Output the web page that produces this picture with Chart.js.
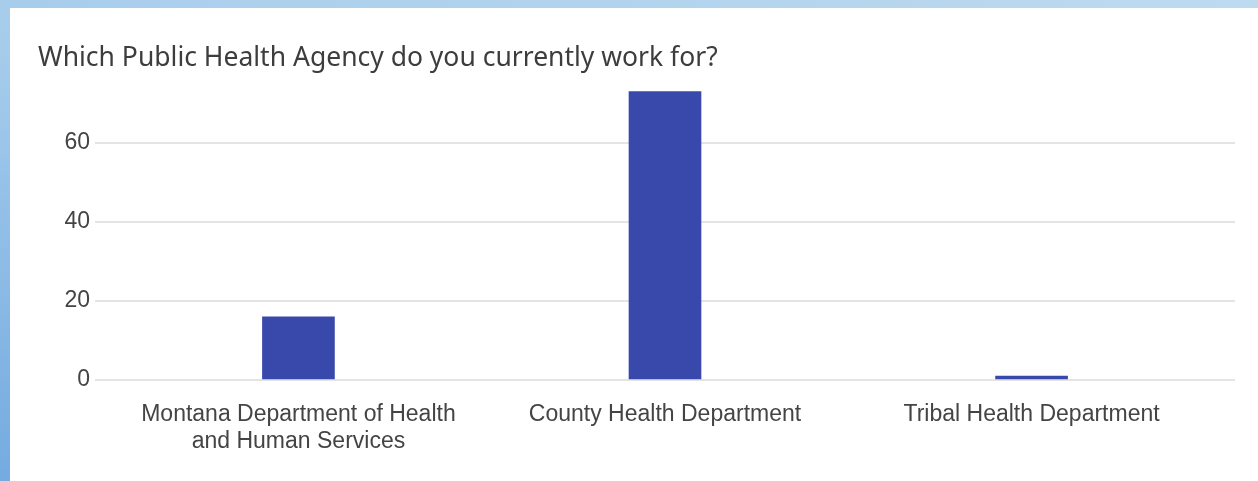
<!DOCTYPE html>
<html>
<head>
<meta charset="utf-8">
<script src="https://cdn.jsdelivr.net/npm/chart.js@4.4.0/dist/chart.umd.min.js"></script>
<style>
  html, body { margin: 0; padding: 0; width: 1258px; height: 481px; overflow: hidden; }
  body { background: linear-gradient(to top right, #74abe0 0%, #a6cceb 45%, #bddaf0 100%); position: relative; }
  #panel { position: absolute; left: 10px; top: 8px; width: 1248px; height: 473px; background: #ffffff; }
  canvas { display: block; }
</style>
</head>
<body>
<div id="panel"><canvas id="chart" width="1248" height="473"></canvas></div>
<script>
// Survey question and answers
const questionTitle = 'Which Public Health Agency do you currently work for?';
const categories = [
  ['Montana Department of Health', 'and Human Services'],
  'County Health Department',
  'Tribal Health Department'
];
const responses = [16, 73, 1];
const yTickValues = [0, 20, 40, 60];

const labelFont = { family: 'Liberation Sans, Arial, sans-serif', size: 23, lineHeight: 27 / 23 };

new Chart(document.getElementById('chart'), {
  type: 'bar',
  data: {
    datasets: [{
      data: responses.map((v, i) => ({ x: i, y: v })),
      backgroundColor: '#3949ab',
      borderWidth: 0,
      barThickness: 72
    }]
  },
  options: {
    responsive: false,
    animation: false,
    layout: { padding: { left: 28, right: 23, top: 0, bottom: 0 } },
    plugins: {
      legend: { display: false },
      tooltip: { enabled: false },
      title: {
        display: true,
        text: questionTitle,
        align: 'start',
        color: '#3d3d3d',
        font: { family: 'Noto Sans, sans-serif', size: 26.5, weight: 'normal', lineHeight: 1.2 },
        padding: { top: 35, bottom: 9 }
      }
    },
    scales: {
      x: {
        type: 'linear',
        offset: false,
        min: -0.555,
        max: 2.555,
        grid: { display: false },
        border: { display: false },
        afterBuildTicks: (scale) => { scale.ticks = categories.map((_, i) => ({ value: i })); },
        afterFit: (scale) => { scale.height = 101; },
        ticks: {
          autoSkip: false,
          maxRotation: 0,
          padding: 13,
          color: '#444444',
          font: labelFont,
          callback: (v) => categories[v]
        }
      },
      y: {
        min: 0,
        max: 75,
        grid: { color: '#e4e4e4', lineWidth: 2, drawTicks: false },
        border: { display: false },
        afterBuildTicks: (scale) => { scale.ticks = yTickValues.map(v => ({ value: v })); },
        afterFit: (scale) => { scale.width = 57; },
        ticks: { padding: 5, color: '#444444', font: labelFont }
      }
    }
  }
});
</script>
</body>
</html>
